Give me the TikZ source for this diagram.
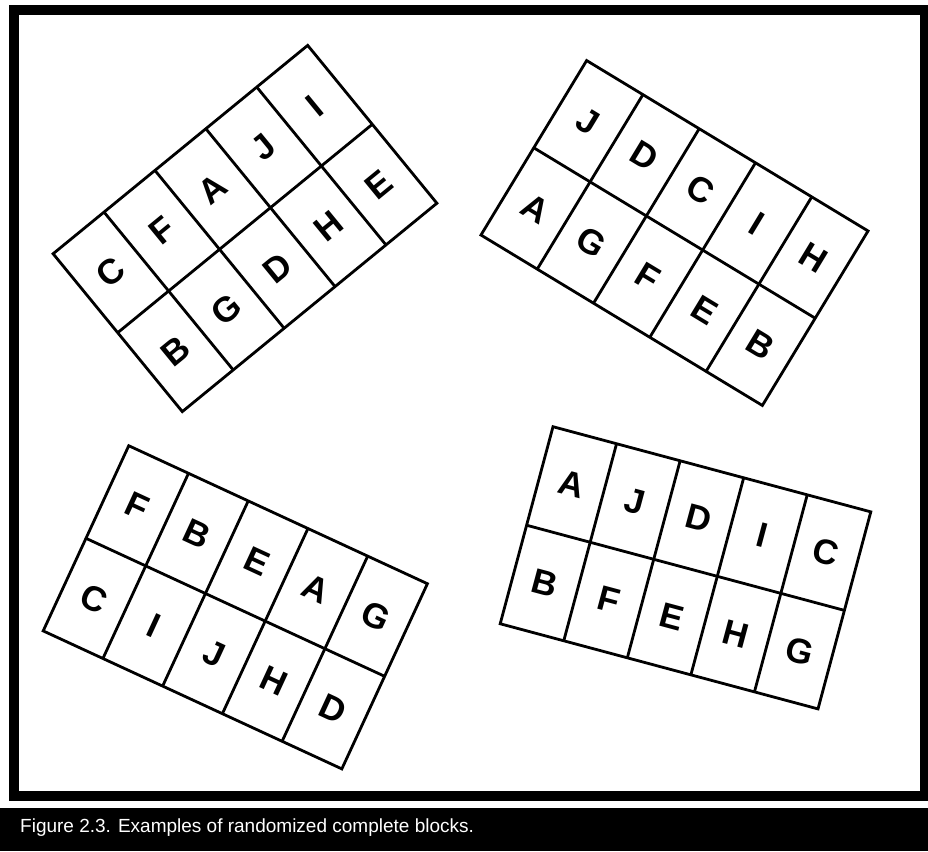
\documentclass[tikz,border=0pt]{standalone}
\usepackage{fontspec}
\setsansfont{Liberation Sans}
\usetikzlibrary{positioning}

\begin{document}
\begin{tikzpicture}[
        x=1pt, y=-1pt,
        frameline/.style={draw, line width=10pt},
        cellline/.style={draw, line width=2.8pt, line join=miter},
        letter/.style={font=\sffamily\bfseries\fontsize{35}{35}\selectfont, inner sep=0pt, transform shape},
        captiontext/.style={font=\sffamily\fontsize{19}{19}\selectfont, text=white, inner sep=0pt, anchor=base west}
    ]
    \useasboundingbox (0,0) rectangle (928,851);

    % --- Frame and caption bar ---
    \draw[frameline] (14,10) rectangle (925,796);
    \fill (0,808) rectangle (928,851);
    \node[captiontext] (caption) at (20,832) {Figure 2.3. Examples of randomized complete blocks.};

    % --- Block 1 (top left) ---
    \begin{scope}[shift={(245,228.5)}, rotate=39.3]
        \draw[cellline] (-164.5,-102) rectangle (164.5,102);
        \draw[cellline] (-164.5,0) -- (164.5,0);
        \foreach \x in {-98.7,-32.9,32.9,98.7} \draw[cellline] (\x,-102) -- (\x,102);
        \foreach \l [count=\i] in {C,F,A,J,I} \node[letter] (one-a\i) at (-197.4+65.8*\i,-51) {\l};
        \foreach \l [count=\i] in {B,G,D,H,E} \node[letter] (one-b\i) at (-197.4+65.8*\i,51) {\l};
    \end{scope}

    % --- Block 2 (top right) ---
    \begin{scope}[shift={(674.5,233)}, rotate=-31.2]
        \draw[cellline] (-164.5,-102) rectangle (164.5,102);
        \draw[cellline] (-164.5,0) -- (164.5,0);
        \foreach \x in {-98.7,-32.9,32.9,98.7} \draw[cellline] (\x,-102) -- (\x,102);
        \foreach \l [count=\i] in {J,D,C,I,H} \node[letter] (two-a\i) at (-197.4+65.8*\i,-51) {\l};
        \foreach \l [count=\i] in {A,G,F,E,B} \node[letter] (two-b\i) at (-197.4+65.8*\i,51) {\l};
    \end{scope}

    % --- Block 3 (bottom left) ---
    \begin{scope}[shift={(235.3,607.3)}, rotate=-24.8]
        \draw[cellline] (-164.5,-102) rectangle (164.5,102);
        \draw[cellline] (-164.5,0) -- (164.5,0);
        \foreach \x in {-98.7,-32.9,32.9,98.7} \draw[cellline] (\x,-102) -- (\x,102);
        \foreach \l [count=\i] in {F,B,E,A,G} \node[letter] (three-a\i) at (-197.4+65.8*\i,-51) {\l};
        \foreach \l [count=\i] in {C,I,J,H,D} \node[letter] (three-b\i) at (-197.4+65.8*\i,51) {\l};
    \end{scope}

    % --- Block 4 (bottom right) ---
    \begin{scope}[shift={(685.5,567.8)}, rotate=-15]
        \draw[cellline] (-164.5,-102) rectangle (164.5,102);
        \draw[cellline] (-164.5,0) -- (164.5,0);
        \foreach \x in {-98.7,-32.9,32.9,98.7} \draw[cellline] (\x,-102) -- (\x,102);
        \foreach \l [count=\i] in {A,J,D,I,C} \node[letter] (four-a\i) at (-197.4+65.8*\i,-51) {\l};
        \foreach \l [count=\i] in {B,F,E,H,G} \node[letter] (four-b\i) at (-197.4+65.8*\i,51) {\l};
    \end{scope}

\end{tikzpicture}
\end{document}
